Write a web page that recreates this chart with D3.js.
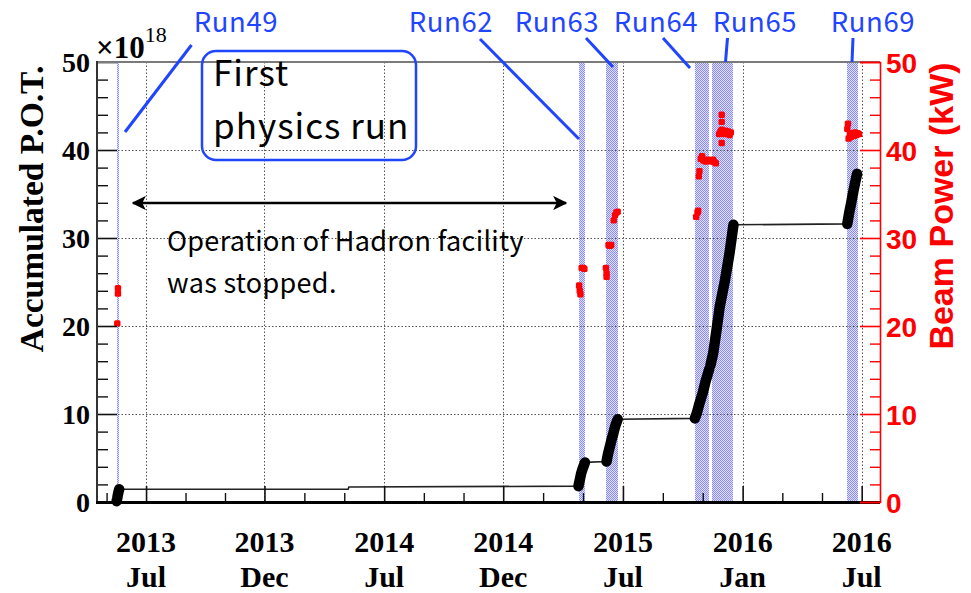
<!DOCTYPE html>
<html>
<head>
<meta charset="utf-8">
<script src="https://cdn.jsdelivr.net/npm/d3@7"></script>
<style>
  body { margin: 0; background: #fff; }
  svg { display: block; }
</style>
</head>
<body>
<svg id="chart" width="971" height="593"></svg>
<script>
// ---- x-axis ticks (two-line date labels) ----
const tickDates  = ["2013-07-03", "2013-12-31", "2014-07-02", "2014-12-31", "2015-07-02", "2016-01-01", "2016-07-01"];
const tickYears  = ["2013", "2013", "2014", "2014", "2015", "2016", "2016"];
const tickMonths = ["Jul", "Dec", "Jul", "Dec", "Jul", "Jan", "Jul"];

// ---- y-axis ticks ----
const potTicks   = [0, 10, 20, 30, 40, 50];
const powerTicks = [0, 10, 20, 30, 40, 50];

// ---- beam periods ----
const runNames = ["Run49", "Run62", "Run63", "Run64", "Run65", "Run69"];
const runStart = ["2013-05-20", "2015-04-26", "2015-06-06", "2015-10-20", "2015-11-15", "2016-06-09"];
const runEnd   = ["2013-05-22", "2015-05-05", "2015-06-25", "2015-11-11", "2015-12-18", "2016-06-26"];

// ---- accumulated POT (x10^18) ----
const potRun49 = [["2013-05-19", 0.1], ["2013-05-20", 0.45], ["2013-05-21", 0.85], ["2013-05-22", 1.2], ["2013-05-23", 1.45]];
const potIdle  = [["2014-05-08", 1.45], ["2014-05-09", 1.7]];
const potRun62 = [["2015-04-25", 1.8], ["2015-04-27", 2.5], ["2015-04-29", 3.2], ["2015-05-01", 3.7], ["2015-05-03", 4.1], ["2015-05-05", 4.5]];
const potRun63 = [["2015-06-07", 4.6], ["2015-06-09", 5.4], ["2015-06-11", 6.0], ["2015-06-13", 6.6], ["2015-06-15", 7.2],
                  ["2015-06-17", 7.7], ["2015-06-19", 8.3], ["2015-06-21", 8.8], ["2015-06-23", 9.2], ["2015-06-24", 9.4]];
const potRun64 = [["2015-10-20", 9.5], ["2015-10-23", 10.1], ["2015-10-27", 11.2], ["2015-11-01", 12.4], ["2015-11-05", 13.6], ["2015-11-11", 15.1]];
const potRun65 = [["2015-11-13", 15.6], ["2015-11-17", 16.9], ["2015-11-22", 19.5], ["2015-11-27", 22.2], ["2015-12-01", 23.7],
                  ["2015-12-05", 25.2], ["2015-12-12", 28.3], ["2015-12-17", 31.0], ["2015-12-18", 31.5]];
const potRun69 = [["2016-06-09", 31.6], ["2016-06-12", 32.9], ["2016-06-15", 34.0], ["2016-06-18", 35.2], ["2016-06-21", 36.3], ["2016-06-24", 37.3]];

// ---- beam power (kW) ----
const powerRun49 = [["2013-05-20", 20.3], ["2013-05-21", 23.7], ["2013-05-21", 24.3]];
const powerRun62 = [["2015-04-26", 24.6], ["2015-04-27", 24.0], ["2015-04-28", 23.6], ["2015-04-30", 26.6], ["2015-05-02", 26.6], ["2015-05-04", 26.5]];
const powerRun63 = [["2015-06-06", 26.6], ["2015-06-07", 26.0], ["2015-06-07", 25.6], ["2015-06-10", 29.2], ["2015-06-12", 29.1], ["2015-06-14", 29.2],
                    ["2015-06-18", 32.0], ["2015-06-20", 32.6], ["2015-06-22", 32.9], ["2015-06-24", 33.0]];
const powerRun64 = [["2015-10-22", 32.4], ["2015-10-24", 32.9], ["2015-10-25", 33.1], ["2015-10-26", 37.0], ["2015-10-27", 37.6],
                    ["2015-10-29", 39.0], ["2015-10-31", 39.3], ["2015-11-02", 38.8], ["2015-11-04", 38.9], ["2015-11-06", 38.7],
                    ["2015-11-08", 38.8], ["2015-11-10", 38.9]];
const powerRun65 = [["2015-11-15", 38.7], ["2015-11-17", 38.9], ["2015-11-19", 38.6], ["2015-11-21", 38.5],
                    ["2015-11-26", 41.8], ["2015-11-28", 42.1], ["2015-11-30", 42.3], ["2015-11-30", 43.2], ["2015-11-30", 44.0], ["2015-11-30", 40.8],
                    ["2015-12-02", 42.0], ["2015-12-04", 41.8], ["2015-12-06", 42.2], ["2015-12-08", 41.9], ["2015-12-10", 42.1],
                    ["2015-12-12", 41.7], ["2015-12-14", 42.0]];
const powerRun69 = [["2016-06-09", 42.4], ["2016-06-10", 43.0], ["2016-06-11", 41.3], ["2016-06-13", 41.8], ["2016-06-15", 41.5],
                    ["2016-06-17", 41.9], ["2016-06-19", 41.6], ["2016-06-21", 42.0], ["2016-06-23", 41.7], ["2016-06-25", 41.9], ["2016-06-27", 41.8]];

// ---------------------------------------------------------------
const parse = d3.utcParse("%Y-%m-%d");
const svg = d3.select("#chart");

const frame = { left: 97, right: 880, top: 62, bottom: 502 };

const x = d3.scaleUtc()
  .domain([parse("2013-04-19"), parse("2016-07-29")])
  .range([frame.left, frame.right]);
const y = d3.scaleLinear().domain([0, 50]).range([frame.bottom, frame.top]);
const yPower = d3.scaleLinear().domain([0, 50]).range([frame.bottom, frame.top]);

const BLUE = "#1f45ff";
const RED = "#ff0000";
const SERIF = "'Liberation Serif', 'Times New Roman', serif";
const SANS = "'Liberation Sans', Arial, sans-serif";
const GOTHIC = "'Noto Sans CJK JP', 'Noto Sans', sans-serif";

// dotted fill for beam periods
const defs = svg.append("defs");
const pat = defs.append("pattern")
  .attr("id", "runFill").attr("patternUnits", "userSpaceOnUse")
  .attr("width", 2).attr("height", 2);
pat.append("rect").attr("width", 2).attr("height", 2).attr("fill", "#e2e2ff");
pat.append("rect").attr("width", 1).attr("height", 1).attr("fill", "#8a8aff");
pat.append("rect").attr("x", 1).attr("y", 1).attr("width", 1).attr("height", 1).attr("fill", "#8a8aff");

// beam-period bands
svg.append("g").selectAll("rect")
  .data(runNames.map((n, i) => ({ name: n, s: parse(runStart[i]), e: parse(runEnd[i]) })))
  .join("rect")
  .attr("x", d => x(d.s))
  .attr("width", d => Math.max(1.2, x(d.e) - x(d.s)))
  .attr("y", frame.top)
  .attr("height", frame.bottom - frame.top)
  .attr("fill", "url(#runFill)")
  .attr("shape-rendering", "crispEdges");

// grid
const majorDates = tickDates.map(parse);
const grid = svg.append("g")
  .attr("stroke", "#555").attr("stroke-width", 1).attr("stroke-dasharray", "1.5,2");
grid.selectAll("line.v").data(majorDates).join("line")
  .attr("x1", d => Math.round(x(d)) + 0.5).attr("x2", d => Math.round(x(d)) + 0.5)
  .attr("y1", frame.top).attr("y2", frame.bottom);
grid.selectAll("line.h").data(potTicks.filter(v => v > 0 && v < 50)).join("line")
  .attr("x1", frame.left).attr("x2", frame.right)
  .attr("y1", d => Math.round(y(d)) + 0.5).attr("y2", d => Math.round(y(d)) + 0.5);

// accumulated POT: thin connecting line + thick run segments
const potAll = [].concat(potRun49, potIdle, potRun62, potRun63, potRun64, potRun65, potRun69)
  .map(d => [parse(d[0]), d[1]]);
const line = d3.line().x(d => x(d[0])).y(d => y(d[1]));
svg.append("path")
  .attr("d", line(potAll))
  .attr("fill", "none").attr("stroke", "#222").attr("stroke-width", 1.6);

const potRuns = [potRun49, potRun62, potRun63, potRun64, potRun65, potRun69]
  .map(r => r.map(d => [parse(d[0]), d[1]]));
svg.append("g").selectAll("path").data(potRuns).join("path")
  .attr("d", d => line(d))
  .attr("fill", "none").attr("stroke", "#000")
  .attr("stroke-width", 10.5).attr("stroke-linecap", "round").attr("stroke-linejoin", "round");

// beam power markers
const powerAll = [].concat(powerRun49, powerRun62, powerRun63, powerRun64, powerRun65, powerRun69)
  .map(d => [parse(d[0]), d[1]]);
svg.append("g").selectAll("rect").data(powerAll).join("rect")
  .attr("x", d => x(d[0]) - 3.2).attr("y", d => yPower(d[1]) - 3.2)
  .attr("width", 6.4).attr("height", 6.4).attr("rx", 1.5)
  .attr("fill", RED);

// ---- axes ----
// left axis
const leftMajor = svg.append("g").attr("transform", `translate(${frame.left},0)`)
  .call(d3.axisLeft(y).tickValues(potTicks).tickSize(-20).tickPadding(7).tickFormat(d3.format("d")));
leftMajor.select(".domain").remove();
leftMajor.selectAll(".tick line").attr("stroke", "#111").attr("stroke-width", 1.6);
leftMajor.selectAll(".tick text")
  .attr("font-family", SERIF).attr("font-weight", "bold").attr("font-size", 28).attr("fill", "#000")
  .attr("dy", "0.34em");
const leftMinor = svg.append("g").attr("transform", `translate(${frame.left},0)`)
  .call(d3.axisLeft(y).tickValues(d3.range(2, 50, 2).filter(v => v % 10)).tickSize(-11).tickFormat(""));
leftMinor.select(".domain").remove();
leftMinor.selectAll(".tick line").attr("stroke", "#111").attr("stroke-width", 1.4);

// bottom axis
const minorDates = [];
minorDates.push(new Date(+majorDates[0] - (majorDates[1] - majorDates[0]) / 3));
for (let i = 0; i < majorDates.length - 1; i++) {
  const step = (majorDates[i + 1] - majorDates[i]) / 3;
  minorDates.push(new Date(+majorDates[i] + step), new Date(+majorDates[i] + 2 * step));
}
const botMajor = svg.append("g").attr("transform", `translate(0,${frame.bottom})`)
  .call(d3.axisBottom(x).tickValues(majorDates).tickSize(-16).tickFormat(""));
botMajor.select(".domain").remove();
botMajor.selectAll(".tick line").attr("stroke", "#111").attr("stroke-width", 1.6);
const botMinor = svg.append("g").attr("transform", `translate(0,${frame.bottom})`)
  .call(d3.axisBottom(x).tickValues(minorDates).tickSize(-9).tickFormat(""));
botMinor.select(".domain").remove();
botMinor.selectAll(".tick line").attr("stroke", "#111").attr("stroke-width", 1.4);

const xLabels = svg.append("g")
  .attr("font-family", SERIF).attr("font-weight", "bold").attr("font-size", 30)
  .attr("text-anchor", "middle").attr("fill", "#000");
majorDates.forEach((d, i) => {
  xLabels.append("text").attr("x", x(d)).attr("y", 552).text(tickYears[i]);
  xLabels.append("text").attr("x", x(d)).attr("y", 587).text(tickMonths[i]);
});

// frame lines
svg.append("line").attr("x1", frame.left).attr("x2", frame.right).attr("y1", frame.top).attr("y2", frame.top)
  .attr("stroke", "#7a7a7a").attr("stroke-width", 2);
svg.append("line").attr("x1", frame.left).attr("x2", frame.left).attr("y1", frame.top - 1).attr("y2", frame.bottom)
  .attr("stroke", "#333").attr("stroke-width", 2);
svg.append("line").attr("x1", frame.left - 1).attr("x2", frame.right).attr("y1", frame.bottom + 0.5).attr("y2", frame.bottom + 0.5)
  .attr("stroke", "#000").attr("stroke-width", 3);

// right (beam power) axis
const rightMajor = svg.append("g").attr("transform", `translate(${frame.right},0)`)
  .call(d3.axisRight(yPower).tickValues(powerTicks).tickSize(-20).tickPadding(6).tickFormat(d3.format("d")));
rightMajor.select(".domain").attr("stroke", RED).attr("stroke-width", 1.6);
rightMajor.selectAll(".tick line").attr("stroke", RED).attr("stroke-width", 1.6);
rightMajor.selectAll(".tick text")
  .attr("font-family", SANS).attr("font-weight", "bold").attr("font-size", 28).attr("fill", RED)
  .attr("dy", "0.36em");
const rightMinor = svg.append("g").attr("transform", `translate(${frame.right},0)`)
  .call(d3.axisRight(yPower).tickValues(d3.range(2, 50, 2).filter(v => v % 10)).tickSize(-10).tickFormat(""));
rightMinor.select(".domain").remove();
rightMinor.selectAll(".tick line").attr("stroke", RED).attr("stroke-width", 1.4);

// axis titles
svg.append("text")
  .attr("transform", "translate(43,209) rotate(-90)")
  .attr("text-anchor", "middle")
  .attr("font-family", SERIF).attr("font-weight", "bold").attr("font-size", 33.5)
  .text("Accumulated P.O.T.");
svg.append("text")
  .attr("transform", "translate(953,206) rotate(-90)")
  .attr("text-anchor", "middle")
  .attr("font-family", SANS).attr("font-weight", "bold").attr("font-size", 34).attr("fill", RED)
  .text("Beam Power (kW)");

const expo = svg.append("text").attr("x", 96).attr("y", 58)
  .attr("font-family", SERIF).attr("font-weight", "bold").attr("font-size", 31);
expo.append("tspan").text("\u00d710");
expo.append("tspan").attr("dy", -16).attr("font-size", 22).attr("font-weight", "normal").text("18");

// ---- annotations ----
const runLabelX = [236, 451, 557, 656, 755, 873];
const leaderLines = [
  [191.5, 45, 125, 132],
  [480, 39, 579, 139],
  [586, 38, 613, 67],
  [663, 38, 690, 68],
  [727.5, 38, 725.5, 62],
  [853, 38, 852, 62]
];
const ann = svg.append("g");
ann.selectAll("text.run").data(runNames).join("text")
  .attr("x", (d, i) => runLabelX[i]).attr("y", 32)
  .attr("text-anchor", "middle")
  .attr("font-family", GOTHIC).attr("font-size", 27.5).attr("letter-spacing", 0.6).attr("fill", BLUE)
  .text(d => d);
ann.selectAll("line.lead").data(leaderLines).join("line")
  .attr("x1", d => d[0]).attr("y1", d => d[1]).attr("x2", d => d[2]).attr("y2", d => d[3])
  .attr("stroke", BLUE).attr("stroke-width", 3);

// "First physics run" box
ann.append("rect")
  .attr("x", 202).attr("y", 51).attr("width", 214).attr("height", 109)
  .attr("rx", 14).attr("fill", "none")
  .attr("stroke", BLUE).attr("stroke-width", 2.5);
ann.append("text").attr("x", 213).attr("y", 86)
  .attr("font-family", GOTHIC).attr("font-size", 35).attr("letter-spacing", 1).attr("fill", "#000").text("First");
ann.append("text").attr("x", 213).attr("y", 139)
  .attr("font-family", GOTHIC).attr("font-size", 35).attr("letter-spacing", 1).attr("fill", "#000").text("physics run");

// shutdown arrow and note
defs.append("marker").attr("id", "arrowHead")
  .attr("viewBox", "0 0 10 10").attr("refX", 9).attr("refY", 5)
  .attr("markerWidth", 5.5).attr("markerHeight", 5.5).attr("markerUnits", "strokeWidth")
  .attr("orient", "auto-start-reverse")
  .append("path").attr("d", "M0,0 L10,5 L0,10 L2.5,5 Z").attr("fill", "#000");
ann.append("line")
  .attr("x1", 133).attr("x2", 566).attr("y1", 203).attr("y2", 203)
  .attr("stroke", "#000").attr("stroke-width", 2.6)
  .attr("marker-start", "url(#arrowHead)").attr("marker-end", "url(#arrowHead)");
ann.append("text").attr("x", 167).attr("y", 251)
  .attr("font-family", GOTHIC).attr("font-size", 27).attr("letter-spacing", 0.3).attr("fill", "#000").text("Operation of Hadron facility");
ann.append("text").attr("x", 167).attr("y", 293)
  .attr("font-family", GOTHIC).attr("font-size", 27).attr("letter-spacing", 0.3).attr("fill", "#000").text("was stopped.");
</script>
</body>
</html>
